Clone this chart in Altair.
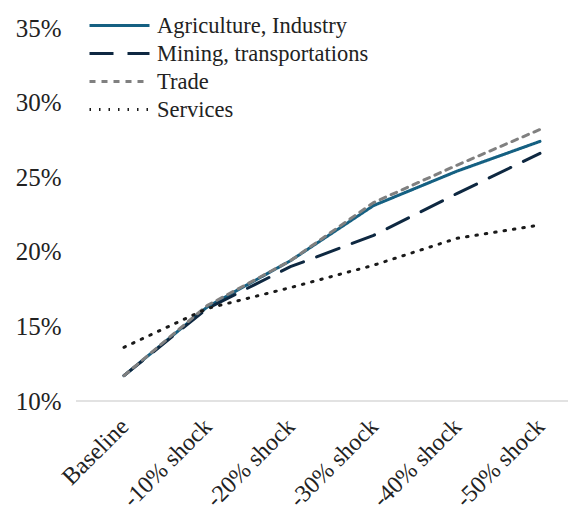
import altair as alt
import pandas as pd

categories = ["Baseline", "-10% shock", "-20% shock", "-30% shock", "-40% shock", "-50% shock"]
series_names = ["Agriculture, Industry", "Mining, transportations", "Trade", "Services"]
agri = [0.117, 0.163, 0.194, 0.231, 0.254, 0.274]
mining = [0.117, 0.162, 0.190, 0.211, 0.239, 0.266]
trade = [0.117, 0.164, 0.194, 0.233, 0.258, 0.282]
services = [0.136, 0.162, 0.176, 0.191, 0.209, 0.218]
y_ticks = [0.10, 0.15, 0.20, 0.25, 0.30, 0.35]

colors = ["#156082", "#0E2841", "#808080", "#1A1A1A"]
dashes = [[1, 0], [24, 14], [6, 6], [1.5, 8]]

rows = []
for name, vals in zip(series_names, [agri, mining, trade, services]):
    for c, v in zip(categories, vals):
        rows.append({"cat": c, "series": name, "value": v})
df = pd.DataFrame(rows)

FONT = "Liberation Serif"
Y_FS = 25
X_FS = 24
LEG_FS = 22.5

x = alt.X("cat:N", sort=categories,
          scale=alt.Scale(type="point", domain=categories, range=[48, 464], padding=0),
          axis=alt.Axis(title=None, domain=False, ticks=False, labelAngle=-45,
                        labelFontSize=X_FS, labelFont=FONT, labelColor="#222222",
                        labelPadding=13, labelOffset=-8))
y = alt.Y("value:Q",
          scale=alt.Scale(domain=[0.10, 0.35], nice=False, zero=False),
          axis=alt.Axis(title=None, domain=False, ticks=False, grid=False,
                        values=y_ticks, format=".0%", labelFontSize=Y_FS,
                        labelFont=FONT, labelColor="#222222", labelPadding=15))

lines = alt.Chart(df).mark_line(strokeWidth=3, strokeCap="round").encode(
    x=x,
    y=y,
    color=alt.Color("series:N", sort=series_names,
                    scale=alt.Scale(domain=series_names, range=colors),
                    legend=alt.Legend(title=None, orient="none", legendX=32, legendY=-14,
                                      labelFont=FONT, labelFontSize=LEG_FS, labelColor="#222222",
                                      labelLimit=400,
                                      symbolType="M-3,0H3", symbolSize=400,
                                      symbolStrokeWidth=3, labelOffset=26, rowPadding=5)),
    strokeDash=alt.StrokeDash("series:N", sort=series_names,
                              scale=alt.Scale(domain=series_names, range=dashes),
                              legend=None),
    order=alt.Order("series:N"),
)

baseline_rule = alt.Chart(pd.DataFrame({"v": [0.10]})).mark_rule(
    color="#D9D9D9", strokeWidth=1.5
).encode(
    y=alt.datum(0.10),
    x=alt.value(0), x2=alt.value(492),
)

chart = alt.layer(lines, baseline_rule).properties(
    width=492, height=373,
    autosize=alt.AutoSizeParams(type="none"),
    padding={"left": 68, "top": 20, "right": 0, "bottom": 109},
).configure_view(stroke=None)

chart.save("out.html", embed_options={"renderer": "svg", "actions": False})
